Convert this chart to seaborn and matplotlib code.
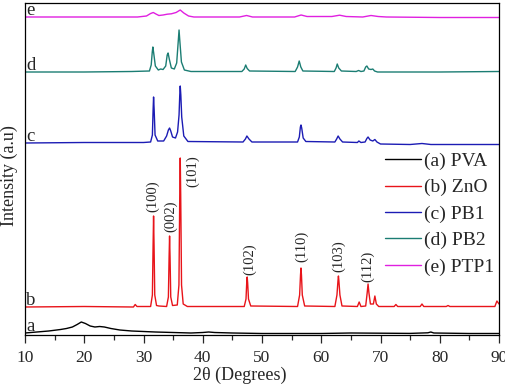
import numpy as np
import pandas as pd
import matplotlib
matplotlib.use("Agg")
import matplotlib.pyplot as plt
import seaborn as sns

# XRD patterns (2theta, stacked intensity in arbitrary units)
pva_2t = [10, 12, 14, 16, 17, 18, 18.8, 19.5, 20.2, 21, 21.8, 22.6, 23.4, 24.5, 26, 28, 30, 32, 35, 38,
          40, 41, 42, 45, 50, 55, 60, 65, 70, 75, 78, 78.5, 79, 85, 90]
pva_int = [2, 3, 4, 5.5, 6.5, 8, 10.5, 13, 11.5, 9, 8, 8.5, 8, 6.5, 5, 4, 3.5, 3, 2.5, 2,
           2.5, 3, 2.5, 2, 1.5, 1.5, 1.5, 2, 1.8, 1.6, 2.2, 3, 2, 1.5, 1.5]

zno_2t = [10, 20, 28.3, 28.6, 28.9, 31.2, 31.5, 31.62, 31.7, 31.78, 31.9, 32.2, 32.6, 33.9, 34.2, 34.32,
          34.4, 34.48, 34.6, 34.9, 35.7, 35.98, 36.12, 36.2, 36.28, 36.42, 36.7, 37.4, 47.0, 47.3, 47.42,
          47.5, 47.58, 47.72, 48.1, 56.0, 56.35, 56.5, 56.58, 56.66, 56.8, 57.2, 62.3, 62.65, 62.82,
          62.9, 62.98, 63.15, 63.5, 66.1, 66.4, 66.7, 67.5, 67.75, 67.9, 68.05, 68.3, 68.8, 69.05, 69.3,
          69.7, 72.3, 72.6, 72.9, 76.7, 77.0, 77.3, 81.1, 81.4, 81.7, 89.3, 89.65, 90]
zno_int = [28, 28.5, 28, 30.5, 28.5, 28.5, 40, 90, 119, 90, 40, 29.5, 29, 28.5, 38, 78,
           99, 78, 38, 29.5, 30, 50, 140, 177, 140, 50, 31, 28.5, 28.5, 36, 52,
           58, 52, 36, 29, 28.5, 40, 60, 67, 60, 40, 29, 28.5, 40, 54,
           59, 54, 40, 29, 28.5, 33, 28.5, 29, 42, 51, 42, 31, 31, 39, 31,
           28.5, 28.5, 30.5, 28.5, 28.5, 31, 28.5, 28.5, 29.5, 28.5, 28.5, 34, 31]

pb1_2t = [10, 20, 30, 31.2, 31.5, 31.62, 31.7, 31.8, 31.95, 32.4, 33.4, 33.9, 34.2, 34.4, 34.6, 34.9,
          35.4, 35.75, 36.0, 36.12, 36.2, 36.3, 36.45, 36.8, 37.5, 46.8, 47.2, 47.45, 47.8, 48.3,
          56.0, 56.3, 56.48, 56.58, 56.7, 56.95, 57.4, 62.3, 62.6, 62.85, 63.15, 63.6, 66.1, 66.35,
          66.7, 67.4, 67.7, 67.9, 68.25, 68.7, 69.05, 69.4, 70, 75, 77, 78.5, 90]
pb1_int = [192, 192.5, 192.5, 193, 200, 225, 238, 225, 200, 194, 194, 199, 205, 207, 204, 198,
           197, 203, 220, 240, 249, 240, 218, 199, 193.5, 193, 196, 199, 196, 193,
           193, 198, 208, 210, 207, 197, 193.5, 193, 196, 199, 196, 193, 192.5, 194,
           192.5, 193, 196.5, 198, 195, 194, 195.5, 193, 191, 190.5, 191.5, 190.5, 190.5]

pb2_2t = [10, 20, 28, 31.0, 31.3, 31.48, 31.58, 31.72, 32.0, 32.5, 32.9, 33.3, 33.75, 34.0, 34.15,
          34.35, 34.7, 35.2, 35.6, 35.88, 36.0, 36.12, 36.4, 36.9, 38, 46.6, 47.0, 47.25, 47.5, 47.9,
          55.6, 56.0, 56.28, 56.55, 56.9, 62.2, 62.5, 62.7, 62.95, 63.4, 65.9, 66.3, 66.7, 67.2,
          67.5, 67.7, 68.0, 68.4, 68.7, 69.0, 69.5, 80, 90]
pb2_int = [263, 263, 263.5, 264, 270, 283, 288, 282, 269, 265, 266, 265.5, 269, 280, 282,
           276, 267, 266, 272, 295, 305, 295, 273, 265, 263.5, 263.5, 266, 270, 266.5, 264,
           263.5, 268, 274, 268, 264, 263.5, 267, 271, 267, 264, 263.5, 264.5, 263.5, 264,
           268, 269, 266, 265.5, 266, 264, 263, 263, 263.5]

ptp1_2t = [10, 20, 29, 30.5, 31.2, 31.65, 32.1, 32.6, 33.3, 34.0, 34.7, 35.5, 36.2, 36.8, 37.6,
           38.5, 46.2, 47.4, 48.4, 55.5, 56.6, 57.6, 61.8, 63.1, 64.2, 67, 68.4, 69.6, 71, 80, 90]
ptp1_int = [318, 318, 318, 319, 321.5, 322.5, 321, 319.5, 320, 320.8, 321.2, 322.5, 325, 322, 319,
            318, 318, 319.5, 318, 318, 320, 318.5, 318.5, 319.8, 318.5, 318, 319.5, 318.5, 318, 317.5, 317.5]

sample_names = ["(a) PVA", "(b) ZnO", "(c) PB1", "(d) PB2", "(e) PTP1"]
trace_letters = ["a", "b", "c", "d", "e"]
baselines = [2, 28, 192, 263, 318]

# Miller indices of the ZnO peaks: label, 2theta of label, bottom of label
hkl_labels = ["(100)", "(002)", "(101)", "(102)", "(110)", "(103)", "(112)"]
hkl_2t = [31.55, 34.6, 38.3, 47.85, 56.7, 63.0, 67.9]
hkl_y = [123, 103, 148, 60, 73, 63, 53]

colors = ["#000000", "#e8141a", "#1c1cb4", "#1b7d73", "#e020e0"]

frames = []
for name, xs, ys in zip(sample_names,
                        [pva_2t, zno_2t, pb1_2t, pb2_2t, ptp1_2t],
                        [pva_int, zno_int, pb1_int, pb2_int, ptp1_int]):
    frames.append(pd.DataFrame({"two_theta": xs, "intensity": ys, "sample": name}))
df = pd.concat(frames, ignore_index=True)

sns.set_theme(style="ticks")
plt.rcParams["font.family"] = ["Liberation Serif", "DejaVu Serif"]

fig = plt.figure(figsize=(5.05, 3.86), dpi=100)
ax = fig.add_axes([25 / 505, 51 / 386, 474 / 505, 332 / 386])

sns.lineplot(data=df, x="two_theta", y="intensity", hue="sample", hue_order=sample_names,
             palette=colors, estimator=None, sort=False, linewidth=1.0, ax=ax)

for letter, base in zip(trace_letters, baselines):
    ax.text(10.2, base + 2, letter, fontsize=13.5, ha="left", va="baseline")

for lab, x, y in zip(hkl_labels, hkl_2t, hkl_y):
    ax.text(x, y, lab, rotation=90, fontsize=10.5, ha="center", va="bottom")

ax.set_xlim(10, 90)
ax.set_ylim(0, 332)
ax.set_xticks(np.arange(10, 91, 10))
ax.set_xticks(np.arange(15, 90, 10), minor=True)
ax.set_yticks([])
ax.tick_params(axis="x", which="major", direction="out", length=5.5, width=0.9, labelsize=12.5, pad=5)
ax.tick_params(axis="x", which="minor", direction="out", length=3.5, width=0.9)
for sp in ax.spines.values():
    sp.set_visible(True)
    sp.set_color("black")
    sp.set_linewidth(0.9)

ax.set_xlabel("2θ (Degrees)", fontsize=13, va="center")
ax.xaxis.set_label_coords(0.454, -0.123)
ax.set_ylabel("Intensity (a.u)", fontsize=13, va="center", ha="center")
ax.yaxis.set_label_coords(-0.032, 0.479)

handles, labels = ax.get_legend_handles_labels()
ax.legend(handles, labels, loc="upper left", bbox_to_anchor=(0.7595, 0.55), frameon=False,
          fontsize=14, handlelength=1.85, handletextpad=0.15, labelspacing=0.45,
          borderpad=0, borderaxespad=0)

fig.savefig("out.png", dpi=100)
